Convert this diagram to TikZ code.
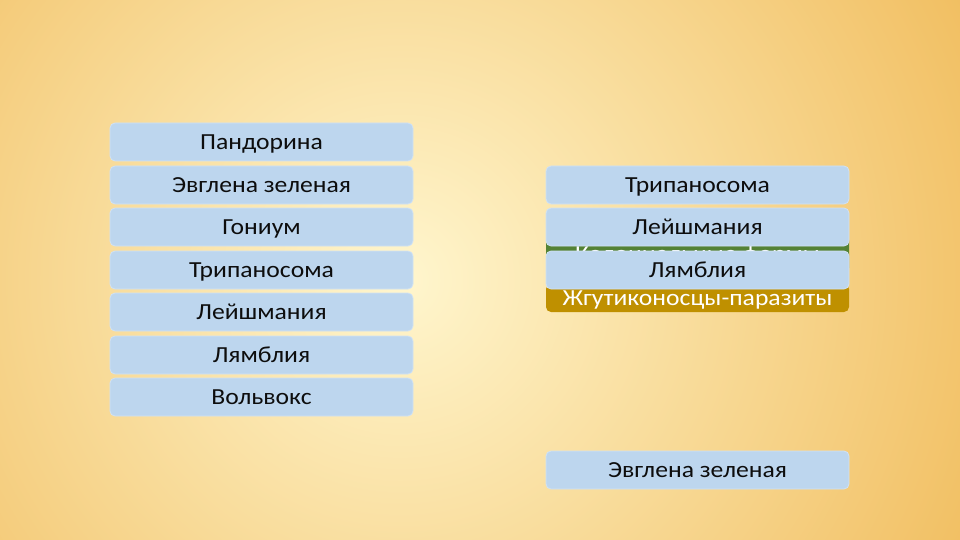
\documentclass[tikz,border=0pt]{standalone}
\usepackage{fontspec}
\setmainfont[FakeStretch=1.115]{Carlito}
\definecolor{boxblue}{RGB}{189,214,238}
\definecolor{grn}{RGB}{84,130,53}
\definecolor{gold}{RGB}{191,144,0}
\definecolor{bgin}{RGB}{255,246,206}
\definecolor{bgout}{RGB}{241,190,96}
\definecolor{txt}{RGB}{13,13,13}
\tikzset{
  cardbox/.style={fill=boxblue, draw=boxblue!70!white, line width=0.8pt, rounded corners=5pt,
    minimum width=303pt, minimum height=38pt, inner sep=0pt, text=txt,
    text height=14.8pt, text depth=0pt,
    font=\fontsize{23}{27}\selectfont},
  catbox/.style={rounded corners=5pt, minimum width=303pt, inner sep=0pt, text=white,
    text height=14.8pt, text depth=0pt,
    font=\fontsize{23}{27}\selectfont}
}
\begin{document}
\begin{tikzpicture}[x=1pt,y=-1pt]
\useasboundingbox (0,0) rectangle (960,540);
\begin{scope}
\clip (0,0) rectangle (960,540);
\shade[inner color=bgin, outer color=bgout] (400,280) circle (640);
\end{scope}
% left column
\node[cardbox] (l1) at (261.5,142) {Пандорина};
\node[cardbox] (l2) at (261.5,185) {Эвглена зеленая};
\node[cardbox] (l3) at (261.5,227) {Гониум};
\node[cardbox] (l4) at (261.5,270) {Трипаносома};
\node[cardbox] (l5) at (261.5,312) {Лейшмания};
\node[cardbox] (l6) at (261.5,355) {Лямблия};
\node[cardbox] (l7) at (261.5,397) {Вольвокс};
% right column categories
\node[catbox, fill=grn, minimum height=38pt] (g) at (697.5,254) {Колониальные формы};
\node[catbox, fill=gold, minimum height=28pt] (p) at (697.5,298) {Жгутиконосцы-паразиты};
% right column cards
\node[cardbox] (r1) at (697.5,185) {Трипаносома};
\node[cardbox] (r2) at (697.5,227) {Лейшмания};
\node[cardbox] (r3) at (697.5,270) {Лямблия};
\node[cardbox] (r4) at (697.5,470) {Эвглена зеленая};
\end{tikzpicture}
\end{document}
